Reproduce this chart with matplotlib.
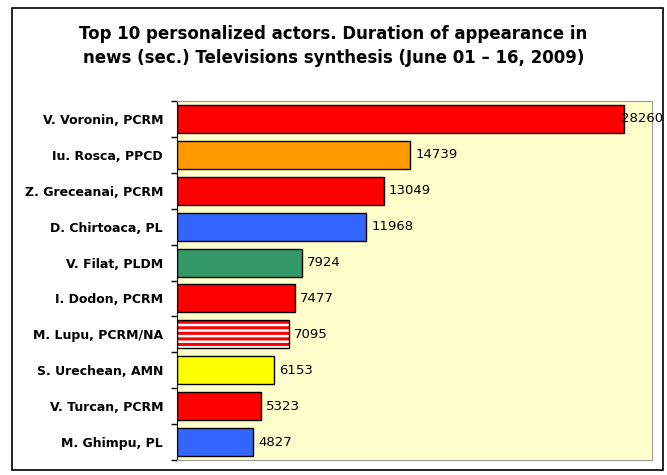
import matplotlib
matplotlib.use("Agg")
import matplotlib.pyplot as plt
from matplotlib.patches import Rectangle

names = ["V. Voronin, PCRM", "Iu. Rosca, PPCD", "Z. Greceanai, PCRM", "D. Chirtoaca, PL",
         "V. Filat, PLDM", "I. Dodon, PCRM", "M. Lupu, PCRM/NA", "S. Urechean, AMN",
         "V. Turcan, PCRM", "M. Ghimpu, PL"]
values = [28260, 14739, 13049, 11968, 7924, 7477, 7095, 6153, 5323, 4827]
colors = ["#FF0000", "#FF9900", "#FF0000", "#3366FF", "#339966", "#FF0000",
          "#FF0000", "#FFFF00", "#FF0000", "#3366FF"]
striped = [False, False, False, False, False, False, True, False, False, False]

plt.rcParams['hatch.linewidth'] = 1.8
fig = plt.figure(figsize=(6.67, 4.75), dpi=100)
fig.patch.set_facecolor("white")
W, H = 667, 475
ax = fig.add_axes([177 / W, 1 - 460 / H, (652 - 177) / W, (460 - 101) / H])
ax.set_facecolor("#FFFFCC")

n = len(names)
ypos = list(range(n))
for i, (v, c, s) in enumerate(zip(values, colors, striped)):
    if s:
        ax.barh(i, v, height=0.78, color=c, edgecolor="white", hatch="---", linewidth=0, zorder=2)
        ax.barh(i, v, height=0.78, color="none", edgecolor="black", linewidth=1, zorder=3)
    else:
        ax.barh(i, v, height=0.78, color=c, edgecolor="black", linewidth=1, zorder=2)
    ax.text(v + 300 if v < 25000 else v - 200, i, str(v), va="center", ha="left",
            fontsize=9.5, family="DejaVu Sans", zorder=4)

ax.set_xlim(0, 30000)
ax.set_ylim(n - 0.5, -0.5)
ax.set_xticks([])
ax.set_yticks(ypos)
ax.set_yticklabels(names, fontsize=9, fontweight="bold")
ax.set_yticks([i - 0.5 for i in range(n + 1)], minor=True)
ax.tick_params(axis="y", which="major", length=0, pad=10)
ax.tick_params(axis="y", which="minor", length=4, width=1, color="black", direction="out")
for side in ["top", "right", "bottom"]:
    ax.spines[side].set_color("#999999")
ax.spines["left"].set_color("black")

fig.text(0.5, 1 - 46 / H, "Top 10 personalized actors. Duration of appearance in\n"
         "news (sec.) Televisions synthesis (June 01 \u2013 16, 2009)",
         ha="center", va="center", fontsize=12, fontweight="bold", linespacing=1.45)

border = Rectangle((12 / W, 1 - 470 / H), (663 - 12) / W, (470 - 8) / H,
                   transform=fig.transFigure, fill=False, edgecolor="black", linewidth=1.2)
fig.patches.append(border)

fig.savefig("out.png", dpi=100)
